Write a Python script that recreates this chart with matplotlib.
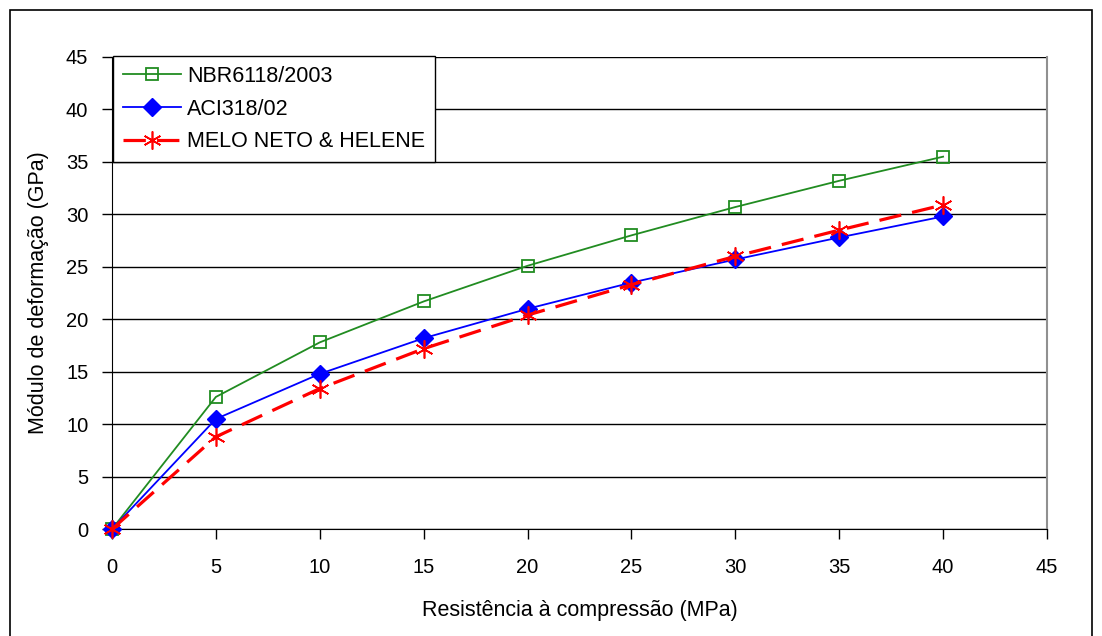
import matplotlib.pyplot as plt
from matplotlib.patches import Rectangle

plt.rcParams['font.family'] = ['Liberation Sans', 'DejaVu Sans']

# fck (MPa) and modulus (GPa)
fck = [0, 5, 10, 15, 20, 25, 30, 35, 40]
nbr = [0, 12.6, 17.8, 21.7, 25.1, 28.0, 30.7, 33.2, 35.5]
aci = [0, 10.5, 14.8, 18.2, 21.0, 23.5, 25.7, 27.8, 29.8]
melo = [0, 8.8, 13.4, 17.2, 20.4, 23.3, 26.0, 28.5, 30.9]

fig = plt.figure(figsize=(11.02, 6.36), dpi=100)
ax = fig.add_axes([0.1016, 0.168, 0.8485, 0.7424])

ax.plot(fck, nbr, color='#218c21', lw=1.3, marker='s', ms=9, mfc='none',
        mec='#218c21', mew=1.3, label='NBR6118/2003', zorder=3, clip_on=False)
ax.plot(fck, aci, color='#0000ff', lw=1.3, marker='D', ms=9, mfc='#0000ff',
        mec='#0000ff', label='ACI318/02', zorder=4, clip_on=False)
ax.plot(fck, melo, color='#ff0000', lw=2.3, ls=(0, (7, 3.5)), marker=(6, 2, 0),
        ms=13, mec='#ff0000', mew=1.2, label='MELO NETO & HELENE', zorder=5,
        clip_on=False)

ax.set_xlim(0, 45)
ax.set_ylim(0, 45)
ax.set_xticks(range(0, 46, 5))
ax.set_yticks(range(0, 46, 5))
ax.yaxis.grid(True, color='black', lw=1)
ax.set_axisbelow(True)
ax.tick_params(labelsize=14.5, direction='out', length=7, width=1)
ax.tick_params(axis='y', pad=10)
ax.tick_params(axis='x', pad=14)
ax.spines['top'].set_visible(False)
ax.spines['right'].set_color('#909090')
ax.spines['right'].set_linewidth(1.5)

ax.set_xlabel('Resistência à compressão (MPa)', fontsize=15.5, labelpad=16)
ax.set_ylabel('Módulo de deformação (GPa)', fontsize=15.5, labelpad=12)

leg = ax.legend(loc='upper left', bbox_to_anchor=(0.001, 1.002), fontsize=15.5,
                frameon=True, fancybox=False, edgecolor='black', framealpha=1,
                borderpad=0.45, labelspacing=0.55, handlelength=2.7,
                handletextpad=0.3, borderaxespad=0)
leg.get_frame().set_linewidth(1)

fig.patches.append(Rectangle((0.009, -0.02), 0.982, 1.004, transform=fig.transFigure,
                             fill=False, edgecolor='black', lw=1.2))

fig.savefig('out.png', dpi=100)
